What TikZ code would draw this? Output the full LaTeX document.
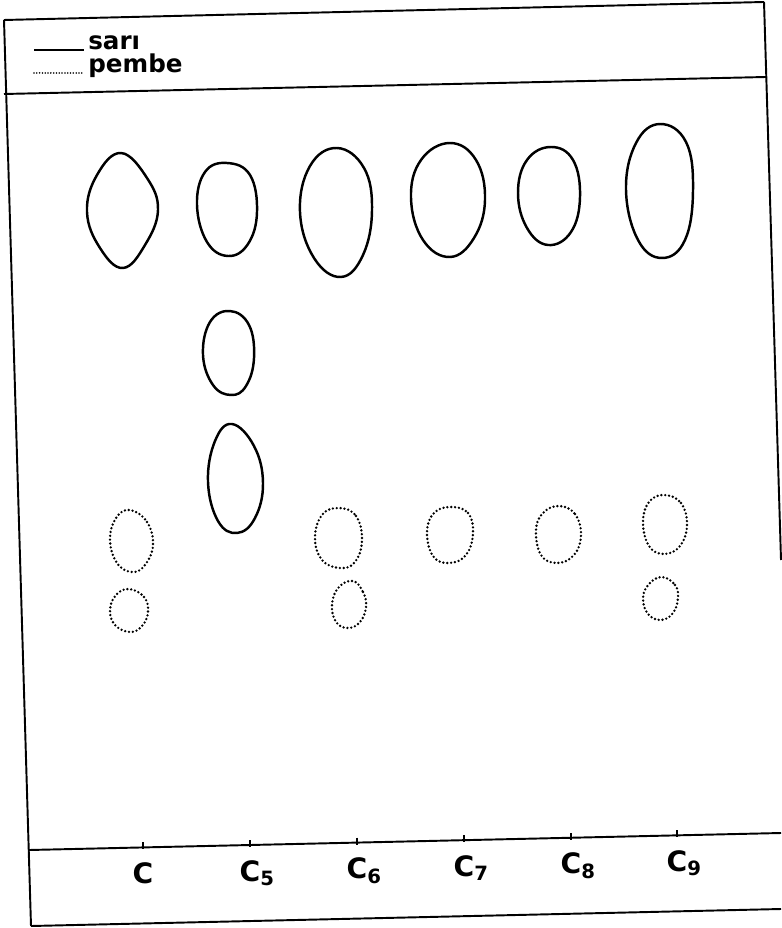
\documentclass[tikz,border=0pt]{standalone}
\usepackage{fontspec}
\setmainfont{DejaVu Sans}

\begin{document}
\begin{tikzpicture}[
    x=0.02cm, y=-0.02cm,
    frame/.style={line width=1.1pt},
    spot/.style={line width=1.4pt, line join=round},
    pinkspot/.style={line width=1.5pt, line cap=round, dash pattern=on 0pt off 2.2pt},
    legendtext/.style={font=\fontsize{14}{16}\selectfont\bfseries, inner sep=0pt, anchor=base west},
    lanelabel/.style={font=\fontsize{16}{18}\selectfont\bfseries, inner sep=0pt}
]
    \useasboundingbox (0,0) rectangle (781,928);

    % Frame
    \draw[frame] (4,20) -- (764,2);
    \draw[frame] (4,20) -- (31,926);
    \draw[frame] (764,2) -- (781,560);
    \draw[frame] (4,94) -- (766,77);
    \draw[frame] (29,850) -- (781,833);
    \draw[frame] (31,926) -- (781,909);

    % Legend
    \node[legendtext] (sari) at (88,50) {sarı};
    \node[legendtext] (pembe) at (88,73) {pembe};
    \draw[line width=0.9pt] (34,50) -- ([xshift=-2pt]sari.base west);
    \draw[pinkspot, line width=1pt, dash pattern=on 0pt off 1.6pt] (34,73) -- ([xshift=-2pt]pembe.base west);

    % Lanes
    \foreach \x/\y/\s/\n in {143/847.4//c, 250/845.0/5/c5, 357/842.6/6/c6,
                             464/840.2/7/c7, 571/837.8/8/c8, 677/835.4/9/c9} {
        \draw[frame] (\x,\y-5) -- (\x,\y+2);
        \node[lanelabel] (\n) at (\x,\y+28) {C\rlap{\textsubscript{\s}}};
    }

    % Yellow spots (sari)
    \draw[spot] plot[smooth cycle, tension=0.7] coordinates {(121,153) (147,178) (158,210) (145,245) (123,268) (100,248) (87,212) (97,175)};
    \draw[spot] plot[smooth cycle, tension=0.7] coordinates {(227,163) (250,175) (257,212) (248,244) (228,256) (207,242) (197,205) (205,172)};
    \draw[spot] plot[smooth cycle, tension=0.7] coordinates {(230,311) (249,325) (254,358) (246,386) (231,395) (213,385) (203,355) (210,322)};
    \draw[spot] plot[smooth cycle, tension=0.7] coordinates {(232,424) (254,446) (263,483) (255,518) (237,533) (218,521) (208,482) (215,441)};
    \draw[spot] plot[smooth cycle, tension=0.7] coordinates {(337,148) (364,168) (372,210) (363,255) (341,277) (314,258) (300,212) (310,166)};
    \draw[spot] plot[smooth cycle, tension=0.7] coordinates {(450,143) (476,160) (485,200) (474,238) (450,257) (423,240) (411,198) (421,160)};
    \draw[spot] plot[smooth cycle, tension=0.7] coordinates {(551,147) (573,160) (580,197) (571,232) (548,245) (527,228) (518,193) (527,160)};
    \draw[spot] plot[smooth cycle, tension=0.7] coordinates {(660,124) (686,142) (693,190) (685,240) (662,258) (638,240) (626,190) (636,143)};

    % Pink spots (pembe)
    \draw[pinkspot] plot[smooth cycle, tension=0.7] coordinates {(130,510) (147,522) (153,545) (145,565) (132,572) (117,563) (110,540) (116,518)};
    \draw[pinkspot] plot[smooth cycle, tension=0.7] coordinates {(129,589) (144,597) (148,612) (142,626) (130,632) (115,625) (110,610) (116,595)};
    \draw[pinkspot] plot[smooth cycle, tension=0.7] coordinates {(339,508) (356,516) (362,540) (355,562) (340,568) (322,560) (315,538) (322,515)};
    \draw[pinkspot] plot[smooth cycle, tension=0.7] coordinates {(353,581) (363,592) (366,607) (360,622) (348,628) (336,622) (332,604) (339,587)};
    \draw[pinkspot] plot[smooth cycle, tension=0.7] coordinates {(451,507) (468,513) (473,533) (466,555) (449,563) (433,556) (427,532) (434,513)};
    \draw[pinkspot] plot[smooth cycle, tension=0.7] coordinates {(559,506) (575,514) (581,535) (574,555) (557,563) (541,555) (536,530) (543,513)};
    \draw[pinkspot] plot[smooth cycle, tension=0.7] coordinates {(664,495) (681,503) (687,525) (680,546) (664,554) (649,546) (643,522) (649,502)};
    \draw[pinkspot] plot[smooth cycle, tension=0.7] coordinates {(662,577) (675,585) (678,598) (673,613) (661,620) (648,614) (643,598) (649,584)};

\end{tikzpicture}
\end{document}
